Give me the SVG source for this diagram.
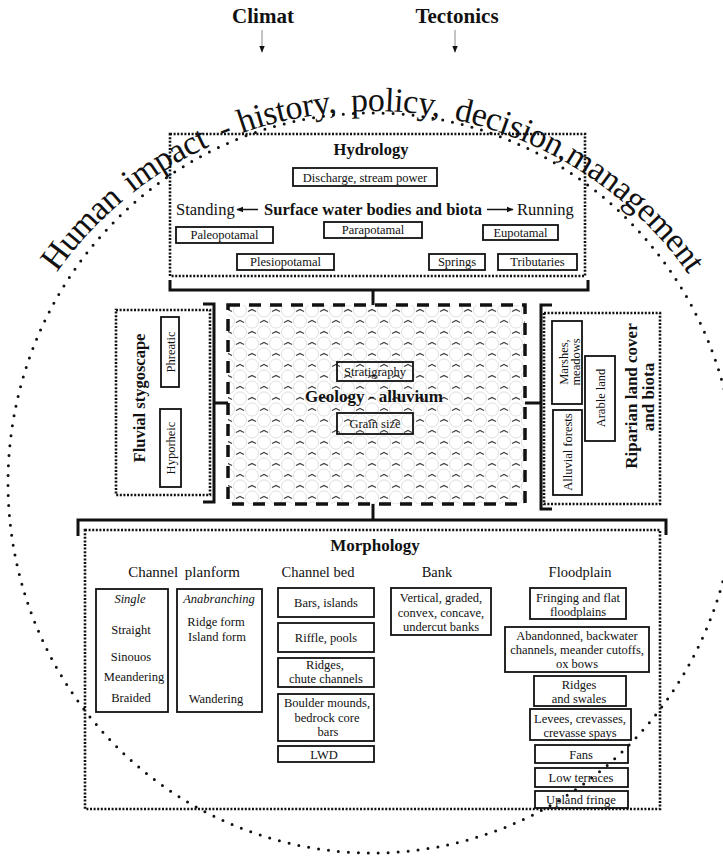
<svg xmlns="http://www.w3.org/2000/svg" width="723" height="856" viewBox="0 0 723 856">
<defs>
<style>
text { font-family: "Liberation Serif", "Times New Roman", serif; fill: #111; }
.b { font-weight: bold; }
.t { font-size: 12.5px; text-anchor: middle; }
.m { text-anchor: middle; }
.arc { font-size: 34px; letter-spacing: -0.4px; }
.box { fill: none; stroke: #111; stroke-width: 1.8; }
.dot { fill: none; stroke: #111; stroke-width: 2.6; stroke-dasharray: 2 1.6; }
.br { fill: none; stroke: #111; stroke-width: 3; }
.circ { fill: none; stroke: #111; stroke-width: 3; stroke-linecap: round; stroke-dasharray: 0 10; }
.thin { fill: none; stroke: #888; stroke-width: 1; }
.arr { fill: none; stroke: #111; stroke-width: 1.5; }
</style>
<marker id="ah" viewBox="0 0 10 10" refX="9" refY="5" markerWidth="7" markerHeight="7" markerUnits="userSpaceOnUse" orient="auto"><path d="M0 1 L10 5 L0 9 z" fill="#111"/></marker>
<pattern id="gravel" width="24" height="22" patternUnits="userSpaceOnUse" x="228" y="305">
<g fill="none" stroke="#d6d6d6" stroke-width="0.8">
<circle cx="12" cy="5.5" r="6.6"/><circle cx="12" cy="27.5" r="6.6"/>
<circle cx="0" cy="16.5" r="6.6"/><circle cx="24" cy="16.5" r="6.6"/>
<circle cx="0" cy="-5.5" r="6.6"/><circle cx="24" cy="-5.5" r="6.6"/>
</g>
<g fill="none" stroke="#444" stroke-width="1.2">
<path d="M-4 6.5 L0 4.5 L4 6.5 M20 6.5 L24 4.5 L28 6.5 M8 17.5 L12 15.5 L16 17.5"/>
</g>
</pattern>
<path id="arcpath" d="M41.2 297 A382 372 0 0 1 731 355.8"/>
</defs>

<rect x="0" y="0" width="723" height="856" fill="#fff"/>

<g id="impact-circle">
<ellipse class="circ" cx="372" cy="483" rx="364" ry="370"/>
<text class="arc"><textPath href="#arcpath" startOffset="29">Human</textPath></text>
<text class="arc"><textPath href="#arcpath" startOffset="139">impact</textPath></text>
<text class="arc"><textPath href="#arcpath" startOffset="244">-</textPath></text>
<text class="arc"><textPath href="#arcpath" startOffset="264">history,</textPath></text>
<text class="arc"><textPath href="#arcpath" startOffset="376">policy,</textPath></text>
<text class="arc"><textPath href="#arcpath" startOffset="479">decision,</textPath></text>
<text class="arc"><textPath href="#arcpath" startOffset="597">mana</textPath></text>
<text class="arc"><textPath href="#arcpath" startOffset="669">gement</textPath></text>
</g>

<g id="climat"><text class="b m" x="263" y="23" font-size="21">Climat</text></g>
<g id="tectonics"><text class="b m" x="457" y="23" font-size="21">Tectonics</text></g>

<g id="hydrology">
<rect class="dot" x="170" y="134" width="415" height="142"/>
<text class="b m" x="371" y="155" font-size="16.5">Hydrology</text>
<rect class="box" x="293" y="168" width="144" height="18"/>
<text class="t" x="365" y="181.5">Discharge, stream power</text>
<text x="176" y="215" font-size="16.5">Standing</text>
<text class="b m" x="373" y="215" font-size="16.5">Surface water bodies and biota</text>
<text x="517" y="215" font-size="16.5">Running</text>
<rect class="box" x="176" y="227" width="97" height="16"/>
<text class="t" x="224.5" y="239">Paleopotamal</text>
<rect class="box" x="324" y="222" width="98" height="16"/>
<text class="t" x="373" y="234">Parapotamal</text>
<rect class="box" x="483" y="225" width="75" height="15"/>
<text class="t" x="520.5" y="236.5">Eupotamal</text>
<rect class="box" x="237" y="254" width="97" height="16"/>
<text class="t" x="285.5" y="266">Plesiopotamal</text>
<rect class="box" x="429" y="254" width="56" height="16"/>
<text class="t" x="457" y="266">Springs</text>
<rect class="box" x="498" y="254" width="79" height="16"/>
<text class="t" x="537.5" y="266">Tributaries</text>
</g>

<g id="stygoscape">
<rect class="dot" x="116" y="310" width="94" height="185"/>
<text class="b m" x="139" y="404" font-size="16.5" transform="rotate(-90 139 398)">Fluvial stygoscape</text>
<rect class="box" x="161" y="317" width="18" height="70"/>
<text class="t" x="170" y="356.5" transform="rotate(-90 170 352)">Phreatic</text>
<rect class="box" x="160" y="409" width="21" height="78"/>
<text class="t" x="170.5" y="452.5" transform="rotate(-90 170.5 448)">Hyporheic</text>
</g>

<g id="geology">
<rect x="228" y="305" width="297" height="199" fill="url(#gravel)"/>
<rect x="228" y="305" width="297" height="199" fill="none" stroke="#111" stroke-width="3.5" stroke-dasharray="12 9"/>
<rect class="box" x="337" y="362" width="76" height="19" fill="#fff"/>
<text class="t" x="375" y="375.5">Stratigraphy</text>
<text class="b m" x="374" y="402" font-size="17">Geology - alluvium</text>
<rect class="box" x="337" y="413" width="76" height="21" fill="#fff"/>
<text class="t" x="375" y="427.5">Grain size</text>
</g>

<g id="riparian">
<rect class="dot" x="544" y="313" width="116" height="191"/>
<rect class="box" x="552" y="321" width="30" height="83"/>
<text class="t" x="563" y="366.5" transform="rotate(-90 563 362)">Marshes,</text>
<text class="t" x="575" y="366.5" transform="rotate(-90 575 362)">meadows</text>
<rect class="box" x="585" y="356" width="30" height="85"/>
<text class="t" x="600" y="402.5" transform="rotate(-90 600 398)">Arable land</text>
<rect class="box" x="553" y="410" width="29" height="85"/>
<text class="t" x="567.5" y="456.5" transform="rotate(-90 567.5 452)">Alluvial forests</text>
<text class="b m" x="631" y="402" font-size="17" transform="rotate(-90 631 396)">Riparian land cover</text>
<text class="b m" x="648" y="403" font-size="17" transform="rotate(-90 648 397)">and biota</text>
</g>

<g id="morphology">
<rect class="dot" x="85" y="530" width="575" height="279"/>
<text class="b m" x="375" y="551" font-size="17">Morphology</text>
<text class="m" x="184" y="577" font-size="15" word-spacing="3">Channel planform</text>
<text class="m" x="318" y="577" font-size="14.5">Channel bed</text>
<text class="m" x="437" y="577" font-size="14.5">Bank</text>
<text class="m" x="580" y="577" font-size="14.5">Floodplain</text>
</g>

<g id="planform-single">
<rect class="box" x="96" y="589" width="72" height="123"/>
<text class="t" x="130" y="603" font-style="italic">Single</text>
<text class="t" x="131" y="634">Straight</text>
<text class="t" x="131" y="661">Sinouos</text>
<text class="t" x="134" y="681">Meandering</text>
<text class="t" x="131" y="702">Braided</text>
</g>
<g id="planform-anabranching">
<rect class="box" x="177" y="589" width="85" height="123"/>
<text class="t" x="219" y="603" font-style="italic">Anabranching</text>
<text class="t" x="216" y="626">Ridge form</text>
<text class="t" x="217" y="641">Island form</text>
<text class="t" x="216" y="703">Wandering</text>
</g>

<g id="bed-bars"><rect class="box" x="278" y="588" width="96" height="29"/><text class="t" x="326" y="606.5">Bars, islands</text></g>
<g id="bed-riffle"><rect class="box" x="278" y="623" width="96" height="29"/><text class="t" x="326" y="641.5">Riffle, pools</text></g>
<g id="bed-ridges"><rect class="box" x="278" y="658" width="96" height="29"/><text class="t" x="325" y="668.5">Ridges,</text><text class="t" x="326" y="683">chute channels</text></g>
<g id="bed-boulder"><rect class="box" x="278" y="694" width="96" height="47"/><text class="t" x="327" y="707">Boulder mounds,</text><text class="t" x="327" y="721.5">bedrock core</text><text class="t" x="328" y="736">bars</text></g>
<g id="bed-lwd"><rect class="box" x="278" y="746" width="96" height="16"/><text class="t" x="324" y="758.5">LWD</text></g>

<g id="bank-types"><rect class="box" x="391" y="588" width="100" height="47"/><text class="t" x="441" y="601.5">Vertical, graded,</text><text class="t" x="441" y="616.5">convex, concave,</text><text class="t" x="441" y="630.5">undercut banks</text></g>

<g id="fp-fringing"><rect class="box" x="530" y="588" width="96" height="31"/><text class="t" x="578" y="601.5">Fringing and flat</text><text class="t" x="578" y="616">floodplains</text></g>
<g id="fp-abandonned"><rect class="box" x="505" y="627" width="144" height="45"/><text class="t" x="577" y="639.5">Abandonned, backwater</text><text class="t" x="577" y="654">channels, meander cutoffs,</text><text class="t" x="577" y="668">ox bows</text></g>
<g id="fp-ridges"><rect class="box" x="534" y="676" width="92" height="30"/><text class="t" x="579" y="688.5">Ridges</text><text class="t" x="579" y="703">and swales</text></g>
<g id="fp-levees"><rect class="box" x="530" y="709" width="101" height="31"/><text class="t" x="580" y="722.5">Levees, crevasses,</text><text class="t" x="580" y="737">crevasse spays</text></g>
<g id="fp-fans"><rect class="box" x="535" y="745" width="93" height="18"/><text class="t" x="581" y="758.5">Fans</text></g>
<g id="fp-terraces"><rect class="box" x="535" y="768" width="93" height="19"/><text class="t" x="581" y="781.5">Low terraces</text></g>
<g id="fp-upland"><rect class="box" x="535" y="791" width="93" height="17"/><text class="t" x="581" y="803.5">Upland fringe</text></g>

<g id="connectors">
<line class="thin" x1="262" y1="30" x2="262" y2="52" marker-end="url(#ah)"/>
<line class="thin" x1="455" y1="30" x2="455" y2="52" marker-end="url(#ah)"/>
<line class="arr" x1="258" y1="209.5" x2="237" y2="209.5" marker-end="url(#ah)"/>
<line class="arr" x1="487" y1="209.5" x2="513" y2="209.5" marker-end="url(#ah)"/>
<path class="br" d="M170 280 V290 H588 V280"/>
<path class="br" d="M373 290 V305"/>
<path class="br" d="M203 304 H214 V502 H203"/>
<path class="br" d="M214 403 H228"/>
<path class="br" d="M552 305 H541 V509 H552"/>
<path class="br" d="M525 403 H541"/>
<path class="br" d="M373 504 V520"/>
<path class="br" d="M78 536 V520 H666 V535"/>
</g>
</svg>
